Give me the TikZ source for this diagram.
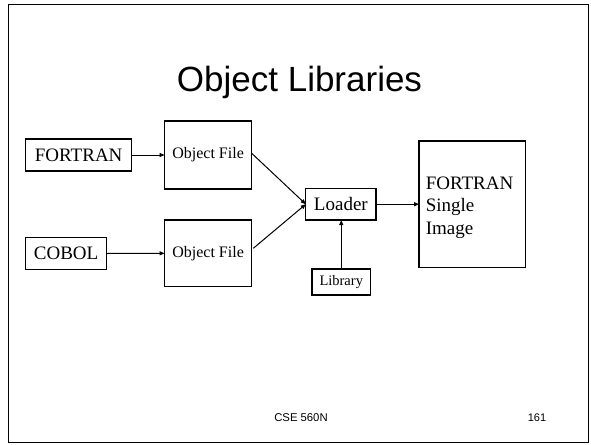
\documentclass[tikz,border=0pt]{standalone}
\usepackage{fontspec}
\setmainfont{Liberation Serif}
\newfontfamily\arialf{Liberation Sans}
\usetikzlibrary{arrows.meta}
\begin{document}
\begin{tikzpicture}[x=1pt,y=-1pt,
  box/.style={draw, line width=1.3pt, inner sep=0pt, outer sep=0pt, align=center},
  conn/.style={line width=1pt, -{Triangle[length=5pt,width=4pt]}},
  big/.style={font=\fontsize{19}{22.5}\selectfont},
  small/.style={font=\fontsize{16}{19}\selectfont}]
\useasboundingbox (0,0) rectangle (591,444);
\node[draw, line width=1pt, minimum width=580pt, minimum height=437.5pt, inner sep=0pt, anchor=north west] (frame) at (7.5,4.2) {};
\node[font=\arialf\fontsize{35}{40}\selectfont, anchor=base, inner sep=0pt] (title) at (299.5,91.7) {Object Libraries};

\node[box, big, minimum width=106.2pt, minimum height=32pt] (fortran) at (78.7,155) {FORTRAN};
\node[box, small, minimum width=87pt, minimum height=68pt] (obj1) at (208.1,155) {Object File};
\node[box, big, minimum width=81pt, minimum height=31.6pt] (cobol) at (66.1,253.5) {COBOL};
\node[box, small, minimum width=87pt, minimum height=66.7pt] (obj2) at (208.1,253.3) {Object File};
\node[box, big, minimum width=70.1pt, minimum height=31.7pt] (loader) at (340.85,204.2) {Loader};
\node[box, font=\fontsize{14.5}{17}\selectfont, minimum width=58.7pt, minimum height=26pt] (library) at (341.25,282) {Library};
\node[box, minimum width=106.4pt, minimum height=126.3pt] (image) at (472.2,204.2) {};
\node[big, align=left, anchor=base west, inner sep=0pt] (imgtext) at (425.6,234) {FORTRAN\\Single\\Image};

\coordinate (s1) at (251.7,153.3);
\coordinate (s2) at (253.3,248.3);
\draw[conn] (fortran.east) -- (obj1.west);
\draw[conn] (cobol.east) -- (obj2.west);
\draw[conn] (s1) -- (loader.west);
\draw[conn] (s2) -- (loader.west);
\draw[conn] (loader.east) -- (image.west |- loader.east);
\draw[conn] (library.north) -- (library.north |- loader.south);

\node[font=\arialf\fontsize{11.3}{13}\selectfont, inner sep=0pt] (footer) at (301,417.5) {CSE 560N};
\node[font=\arialf\fontsize{11}{13}\selectfont, inner sep=0pt] (page) at (537,417.5) {161};
\end{tikzpicture}
\end{document}
